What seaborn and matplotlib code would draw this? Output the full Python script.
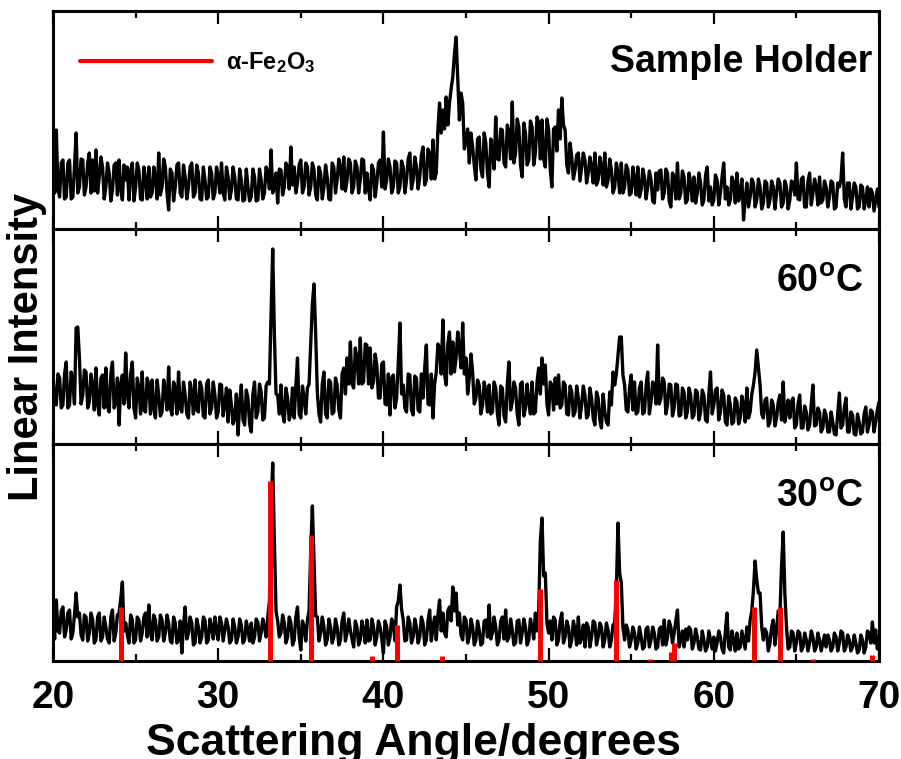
import numpy as np
import pandas as pd
import matplotlib
matplotlib.use("Agg")
import matplotlib.pyplot as plt
import seaborn as sns
from matplotlib.lines import Line2D
from matplotlib.ticker import MultipleLocator

sns.set_style("white")
plt.rcParams["font.family"] = ["Liberation Sans", "DejaVu Sans"]
plt.rcParams["font.weight"] = "bold"
plt.rcParams["text.color"] = "black"
plt.rcParams["axes.labelcolor"] = "black"
plt.rcParams["xtick.color"] = "black"
plt.rcParams["ytick.color"] = "black"
plt.rcParams["mathtext.fontset"] = "custom"
plt.rcParams["mathtext.rm"] = "Liberation Sans:bold"
plt.rcParams["mathtext.it"] = "Liberation Sans:bold"
plt.rcParams["mathtext.bf"] = "Liberation Sans:bold"

# ---------------- data ----------------
# scan angles: 20.0 .. 70.0 in 0.1 degree steps
angles = np.round(np.arange(20.0, 70.0001, 0.1), 1)

# Sample holder: values at 20.0, 20.2, ... 70.0 and at 20.1, 20.3, ... 69.9
holder_even = [
    66, 99, 32, 69, 32, 69, 32, 96, 42, 69,
    42, 76, 69, 79, 52, 62, 42, 56, 39, 66,
    69, 29, 49, 29, 66, 42, 59, 29, 49, 62,
    36, 52, 76, 42, 62, 19, 56, 42, 66, 32,
    52, 42, 66, 36, 56, 29, 49, 32, 56, 36,
    52, 66, 29, 52, 39, 52, 29, 49, 29, 42,
    32, 52, 29, 49, 36, 56, 79, 42, 26, 59,
    42, 62, 82, 62, 46, 69, 42, 62, 42, 59,
    29, 56, 42, 52, 29, 62, 49, 62, 72, 49,
    66, 42, 62, 49, 69, 56, 29, 59, 46, 69,
    97, 49, 62, 42, 66, 42, 62, 49, 76, 49,
    62, 52, 82, 49, 76, 89, 56, 126, 119, 132,
    126, 152, 192, 109, 126, 89, 66, 82, 49, 92,
    52, 86, 42, 76, 112, 69, 99, 62, 96, 127,
    76, 102, 52, 96, 69, 102, 76, 106, 109, 62,
    99, 42, 102, 119, 131, 99, 56, 72, 59, 76,
    62, 69, 56, 62, 76, 49, 62, 76, 49, 59,
    42, 56, 66, 42, 59, 36, 49, 62, 39, 52,
    42, 49, 26, 39, 59, 36, 56, 22, 52, 66,
    36, 52, 29, 46, 52, 36, 46, 29, 62, 42,
    29, 49, 36, 66, 42, 29, 46, 56, 36, 9,
    46, 32, 46, 29, 42, 26, 46, 29, 42, 36,
    46, 26, 42, 29, 46, 66, 29, 52, 22, 56,
    36, 42, 52, 29, 42, 32, 46, 22, 42, 76,
    22, 46, 32, 42, 22, 42, 29, 22, 36, 29,
    22,
]
holder_odd = [
    36, 40, 66, 30, 66, 30, 62, 36, 70, 34,
    66, 36, 38, 36, 72, 30, 66, 28, 64, 34,
    40, 64, 62, 58, 28, 66, 30, 62, 30, 32,
    62, 30, 34, 70, 36, 60, 28, 64, 36, 64,
    30, 62, 32, 64, 30, 62, 30, 62, 30, 62,
    36, 36, 62, 30, 62, 30, 60, 28, 60, 28,
    60, 28, 60, 30, 62, 40, 36, 56, 60, 34,
    66, 40, 44, 36, 64, 36, 66, 34, 66, 34,
    62, 30, 64, 30, 66, 36, 70, 40, 38, 70,
    36, 68, 36, 70, 36, 40, 64, 32, 66, 42,
    40, 70, 36, 68, 36, 68, 36, 70, 40, 72,
    40, 74, 44, 80, 50, 50, 100, 96, 100, 104,
    140, 175, 150, 136, 80, 100, 96, 64, 90, 60,
    96, 56, 90, 60, 70, 100, 66, 104, 70, 66,
    110, 64, 106, 64, 108, 64, 112, 70, 70, 110,
    60, 100, 78, 90, 104, 64, 86, 50, 74, 48,
    76, 46, 72, 46, 44, 72, 44, 42, 70, 36,
    66, 36, 36, 64, 34, 62, 34, 32, 60, 30,
    58, 28, 56, 58, 30, 60, 28, 56, 30, 30,
    58, 26, 56, 28, 26, 56, 24, 54, 28, 24,
    54, 24, 52, 30, 24, 52, 26, 28, 50, 30,
    22, 50, 22, 50, 20, 48, 22, 48, 20, 50,
    22, 48, 20, 48, 34, 30, 50, 22, 48, 24,
    50, 24, 26, 48, 22, 48, 20, 46, 50, 30,
    46, 20, 46, 20, 44, 20, 42, 40, 18, 40,
]

# 60 C
t60_even = [
    72, 39, 66, 39, 82, 39, 62, 116, 86, 49,
    72, 42, 59, 76, 29, 69, 76, 32, 82, 42,
    19, 69, 91, 36, 82, 26, 56, 72, 32, 59,
    64, 26, 49, 32, 52, 77, 29, 56, 72, 32,
    49, 26, 52, 64, 32, 56, 26, 64, 36, 49,
    32, 59, 39, 22, 39, 26, 9, 59, 19, 46,
    12, 62, 32, 52, 26, 62, 130, 110, 49, 59,
    22, 46, 32, 26, 86, 26, 46, 56, 100, 160,
    52, 22, 72, 26, 62, 32, 59, 26, 76, 86,
    102, 56, 86, 106, 62, 99, 96, 62, 79, 46,
    82, 39, 29, 69, 46, 121, 59, 32, 69, 29,
    66, 32, 46, 99, 39, 26, 72, 96, 124, 59,
    112, 102, 86, 96, 121, 86, 66, 72, 46, 59,
    39, 52, 59, 32, 56, 19, 56, 22, 82, 42,
    56, 19, 62, 36, 42, 62, 32, 76, 86, 79,
    29, 59, 66, 69, 39, 59, 29, 52, 32, 46,
    39, 49, 29, 46, 19, 46, 16, 32, 19, 39,
    59, 89, 107, 59, 32, 69, 62, 32, 62, 32,
    72, 42, 59, 99, 46, 62, 39, 59, 36, 59,
    29, 52, 32, 49, 29, 52, 32, 49, 22, 72,
    39, 56, 32, 49, 19, 39, 22, 42, 26, 39,
    56, 32, 59, 94, 59, 26, 46, 22, 39, 26,
    49, 62, 32, 26, 46, 19, 49, 16, 32, 19,
    59, 19, 32, 16, 29, 12, 22, 9, 51, 19,
    46, 12, 29, 9, 22, 12, 37, 19, 32, 22,
    42,
]
t60_odd = [
    40, 70, 36, 70, 36, 72, 40, 117, 40, 74,
    36, 70, 34, 40, 66, 36, 38, 70, 36, 66,
    60, 40, 50, 70, 36, 66, 30, 34, 66, 30,
    36, 64, 28, 64, 34, 36, 62, 30, 36, 62,
    30, 62, 30, 34, 62, 28, 60, 30, 62, 26,
    60, 28, 56, 54, 20, 50, 40, 24, 54, 20,
    50, 26, 60, 24, 58, 60, 195, 50, 30, 30,
    56, 24, 56, 58, 30, 58, 30, 60, 140, 110,
    30, 60, 30, 64, 30, 66, 34, 70, 50, 60,
    60, 96, 60, 60, 100, 60, 56, 90, 46, 80,
    40, 70, 66, 36, 80, 50, 36, 70, 34, 68,
    34, 70, 76, 40, 70, 60, 100, 70, 70, 100,
    70, 72, 112, 76, 70, 50, 90, 40, 64, 30,
    62, 32, 30, 62, 30, 58, 28, 60, 34, 62,
    30, 60, 28, 60, 30, 30, 62, 50, 60, 40,
    62, 34, 40, 36, 62, 30, 58, 28, 58, 26,
    58, 26, 56, 26, 52, 24, 50, 22, 52, 72,
    70, 107, 69, 34, 56, 34, 30, 56, 30, 58,
    30, 62, 40, 40, 66, 30, 60, 28, 60, 28,
    56, 26, 56, 26, 54, 24, 54, 24, 50, 30,
    54, 24, 54, 22, 48, 20, 46, 20, 48, 22,
    26, 50, 72, 76, 30, 44, 18, 44, 18, 42,
    24, 22, 44, 42, 16, 40, 16, 38, 14, 40,
    18, 36, 12, 34, 12, 32, 10, 30, 16, 36,
    12, 32, 10, 30, 10, 30, 12, 34, 12, 34,
]

# 30 C
t30_even = [
    41, 61, 28, 54, 31, 51, 28, 68, 48, 21,
    44, 28, 41, 21, 48, 24, 34, 18, 51, 28,
    48, 79, 38, 18, 41, 21, 41, 28, 48, 56,
    21, 41, 24, 41, 28, 38, 18, 38, 21, 8,
    54, 28, 38, 18, 34, 24, 41, 21, 34, 44,
    21, 38, 31, 34, 21, 34, 24, 36, 21, 31,
    38, 24, 39, 28, 34, 44, 150, 120, 40, 28,
    38, 24, 38, 21, 54, 11, 34, 41, 110, 100,
    44, 28, 34, 21, 34, 24, 34, 21, 48, 28,
    31, 14, 34, 21, 31, 41, 21, 34, 24, 34,
    8, 34, 24, 38, 54, 76, 41, 21, 38, 24,
    34, 24, 38, 21, 51, 34, 21, 61, 48, 24,
    54, 74, 68, 48, 21, 41, 24, 34, 21, 31,
    18, 41, 56, 28, 34, 21, 44, 51, 24, 31,
    18, 41, 28, 34, 21, 34, 48, 50, 143, 88,
    28, 21, 41, 21, 48, 24, 34, 21, 31, 44,
    24, 14, 34, 24, 38, 24, 34, 21, 31, 21,
    38, 138, 78, 21, 31, 21, 28, 18, 24, 14,
    34, 21, 28, 14, 34, 41, 24, 34, 28, 51,
    21, 14, 21, 31, 18, 24, 11, 21, 14, 21,
    24, 18, 24, 8, 48, 11, 21, 28, 14, 21,
    34, 41, 71, 81, 68, 21, 28, 18, 41, 31,
    45, 129, 34, 14, 28, 18, 28, 14, 21, 18,
    24, 14, 21, 18, 14, 21, 14, 24, 18, 28,
    14, 21, 14, 18, 11, 21, 14, 28, 39, 31,
    24,
]
t30_odd = [
    22, 30, 50, 24, 48, 22, 46, 44, 26, 46,
    20, 48, 18, 44, 20, 44, 22, 44, 20, 46,
    62, 30, 26, 46, 18, 44, 20, 44, 24, 28,
    46, 20, 46, 20, 46, 20, 44, 18, 40, 36,
    22, 44, 16, 42, 18, 44, 18, 42, 22, 30,
    44, 20, 42, 18, 42, 18, 42, 18, 40, 20,
    18, 42, 20, 42, 24, 60, 198, 50, 24, 46,
    18, 44, 16, 44, 24, 40, 20, 50, 155, 45,
    20, 44, 16, 42, 18, 42, 16, 40, 20, 42,
    22, 40, 16, 40, 18, 20, 42, 16, 40, 22,
    40, 16, 42, 20, 60, 52, 20, 44, 18, 42,
    18, 44, 16, 40, 20, 44, 46, 30, 28, 50,
    40, 50, 36, 26, 44, 18, 42, 16, 40, 16,
    40, 24, 22, 44, 16, 40, 22, 20, 42, 16,
    40, 18, 42, 16, 42, 22, 30, 120, 85, 38,
    40, 44, 16, 40, 18, 40, 14, 40, 16, 18,
    36, 38, 14, 40, 16, 38, 14, 38, 14, 36,
    70, 88, 34, 36, 14, 34, 12, 34, 12, 32,
    14, 34, 12, 32, 16, 16, 40, 18, 40, 14,
    30, 32, 34, 12, 32, 12, 30, 10, 30, 12,
    10, 30, 12, 30, 14, 30, 10, 12, 30, 12,
    20, 50, 100, 68, 34, 32, 10, 34, 16, 50,
    95, 68, 12, 30, 10, 30, 10, 28, 10, 30,
    10, 28, 10, 26, 26, 10, 28, 10, 30, 10,
    26, 10, 26, 8, 26, 8, 30, 18, 18, 12,
]

# alpha-Fe2O3 reference lines (angle, bar height in the same units)
ref_angles = [24.14, 33.15, 35.61, 39.28, 40.85, 43.52, 49.48, 54.09,
              56.15, 57.43, 57.59, 62.45, 63.99, 66.03, 69.60]
ref_heights = [54, 180, 126, 5, 36, 5, 72, 81, 2, 9, 18, 54, 54, 2, 6]

panel_labels = ["Sample Holder", r"60$^{\mathrm{o}}$C", r"30$^{\mathrm{o}}$C"]
x_ticks = [20, 30, 40, 50, 60, 70]


def make_frame(even_vals, odd_vals):
    y = np.empty(len(angles))
    y[0::2] = even_vals
    y[1::2] = odd_vals
    return pd.DataFrame({"angle": angles, "intensity": y})


frames = [
    make_frame(holder_even, holder_odd),
    make_frame(t60_even, t60_odd),
    make_frame(t30_even, t30_odd),
]

# ---------------- figure ----------------
W, H = 901, 759
fig = plt.figure(figsize=(W / 100, H / 100), dpi=100)
left_px, right_px = 53, 879
panels_px = [(11, 229), (229, 444), (444, 661)]
axes = []
for top, bot in panels_px:
    ax = fig.add_axes([left_px / W, 1 - bot / H, (right_px - left_px) / W, (bot - top) / H])
    axes.append(ax)

label_pos = [(0.992, 0.766), (0.981, 0.755), (0.981, 0.756)]
for i, (ax, df) in enumerate(zip(axes, frames)):
    top, bot = panels_px[i]
    sns.lineplot(data=df, x="angle", y="intensity", ax=ax, color="black",
                 linewidth=2.4, estimator=None, sort=False)
    ax.set_xlim(20, 70)
    ax.set_ylim(0, bot - top)
    ax.set_xlabel("")
    ax.set_ylabel("")
    ax.set_yticks([])
    ax.xaxis.set_major_locator(MultipleLocator(10))
    ax.xaxis.set_minor_locator(MultipleLocator(5))
    ax.tick_params(axis="x", which="major", direction="in", length=9.5, width=1.6,
                   top=True, bottom=True, labelsize=28, pad=14, colors="black")
    ax.tick_params(axis="x", which="minor", direction="in", length=5, width=1.6,
                   top=True, bottom=True, colors="black")
    for s in ax.spines.values():
        s.set_linewidth(2.2)
        s.set_color("black")
    if i < 2:
        ax.tick_params(axis="x", which="both", labelbottom=False)
    ax.text(label_pos[i][0], label_pos[i][1], panel_labels[i], color="black",
            transform=ax.transAxes, ha="right", va="center", fontsize=27, fontweight="bold")

axes[2].set_xticks(x_ticks)
axes[2].set_xticklabels([str(t) for t in x_ticks], fontweight="bold", color="black")

# reference bars for alpha-Fe2O3 (bottom panel)
axes[2].vlines(ref_angles, 0, ref_heights, colors="red", linewidth=3.6, zorder=5, clip_on=False)

# legend in top panel
handle = Line2D([], [], color="red", linewidth=3)
axes[0].legend([handle], [r"α-Fe$_2$O$_3$"], loc="center left", bbox_to_anchor=(0.0327, 0.7615),
               frameon=False, handlelength=5.6, handletextpad=0.6,
               borderpad=0, borderaxespad=0, prop={"weight": "bold", "size": 17})

fig.text(27 / W, 1 - 347 / H, "Linear Intensity", rotation=90, ha="center", va="center",
         fontsize=30, fontweight="bold", color="black")
fig.text(413 / W, 1 - 755 / H, "Scattering Angle/degrees", ha="center", va="baseline",
         fontsize=32, fontweight="bold", color="black")

fig.savefig("out.png", dpi=100)
